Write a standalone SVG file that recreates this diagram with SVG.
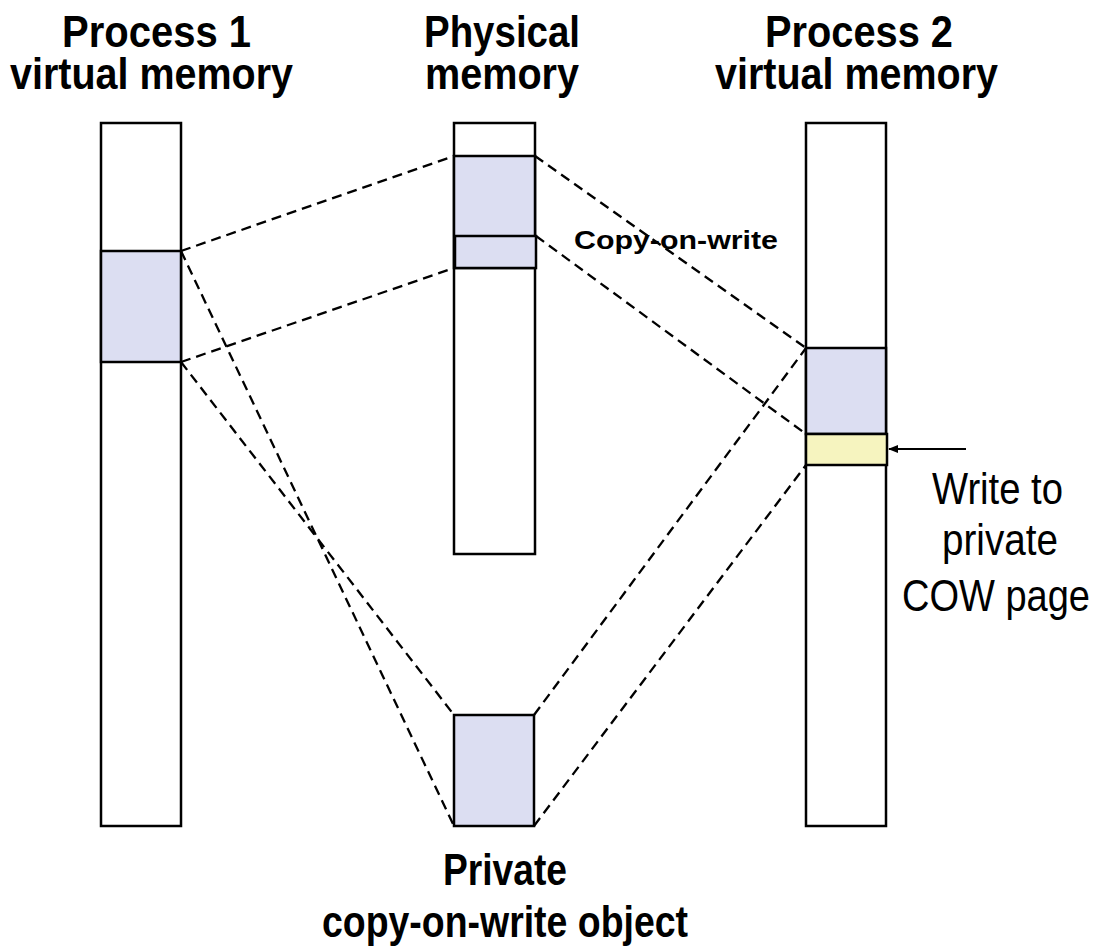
<svg xmlns="http://www.w3.org/2000/svg" width="1097" height="950" viewBox="0 0 1097 950">
<style>
.col{fill:#ffffff;stroke:#000;stroke-width:2.5}
.sh{fill:#dcdef2;stroke:#000;stroke-width:2.5}
.ye{fill:#f6f4bf;stroke:#000;stroke-width:2.5}
.dl{fill:none;stroke:#000;stroke-width:2.3;stroke-dasharray:10 6}
.tb{font-family:"Liberation Sans",Arial,sans-serif;font-weight:bold;font-size:45px;fill:#000}
.tn{font-family:"Liberation Sans",Arial,sans-serif;font-size:45px;fill:#000}
.ts{font-family:"Liberation Sans",Arial,sans-serif;font-weight:bold;font-size:26px;fill:#000}
</style>
<defs>
<marker id="ah" markerWidth="10" markerHeight="8" refX="9" refY="4" orient="auto" markerUnits="userSpaceOnUse">
<path d="M0,0 L10,4 L0,8 Z" fill="#000"/>
</marker>
</defs>
<rect width="1097" height="950" fill="#fff"/>
<g id="labels">
<text class="tb" x="62" y="47" textLength="189" lengthAdjust="spacingAndGlyphs">Process 1</text>
<text class="tb" x="10" y="89" textLength="283" lengthAdjust="spacingAndGlyphs">virtual memory</text>
<text class="tb" x="424" y="47" textLength="156" lengthAdjust="spacingAndGlyphs">Physical</text>
<text class="tb" x="425" y="89" textLength="154" lengthAdjust="spacingAndGlyphs">memory</text>
<text class="tb" x="765" y="47" textLength="188" lengthAdjust="spacingAndGlyphs">Process 2</text>
<text class="tb" x="715" y="89" textLength="283" lengthAdjust="spacingAndGlyphs">virtual memory</text>
</g>
<g id="process1">
<rect class="col" x="101" y="123" width="80" height="703"/>
<rect class="sh" x="101" y="251" width="80" height="111"/>
</g>
<g id="physical">
<rect class="col" x="454" y="123" width="81" height="431"/>
<rect class="sh" x="454" y="156" width="81" height="112"/>
<rect class="sh" x="455" y="236" width="81" height="32"/>
</g>
<g id="process2">
<rect class="col" x="806" y="123" width="80" height="703"/>
<rect class="sh" x="806" y="348" width="80" height="86"/>
<rect class="ye" x="806" y="434" width="81" height="31"/>
</g>
<g id="private">
<rect class="sh" x="454" y="715" width="80" height="111"/>
<text class="tb" x="443" y="885" textLength="124" lengthAdjust="spacingAndGlyphs">Private</text>
<text class="tb" x="322" y="937" textLength="366" lengthAdjust="spacingAndGlyphs">copy-on-write object</text>
</g>
<g id="connectors">
<line class="dl" x1="181" y1="251" x2="454" y2="156"/>
<line class="dl" x1="181" y1="362" x2="454" y2="268"/>
<line class="dl" x1="181" y1="251" x2="454" y2="826"/>
<line class="dl" x1="181" y1="362" x2="454" y2="715"/>
<line class="dl" x1="535" y1="156" x2="806" y2="348"/>
<line class="dl" x1="536" y1="236" x2="806" y2="434"/>
<line class="dl" x1="534" y1="715" x2="806" y2="348"/>
<line class="dl" x1="534" y1="826" x2="806" y2="465"/>
<line x1="966" y1="449" x2="889" y2="449" stroke="#000" stroke-width="2" marker-end="url(#ah)"/>
</g>
<g id="cow-label">
<text class="ts" x="574" y="249" textLength="204" lengthAdjust="spacingAndGlyphs">Copy-on-write</text>
</g>
<g id="write-label">
<text class="tn" x="932" y="504" textLength="131" lengthAdjust="spacingAndGlyphs">Write to</text>
<text class="tn" x="942" y="555" textLength="116" lengthAdjust="spacingAndGlyphs">private</text>
<text class="tn" x="902" y="611" textLength="188" lengthAdjust="spacingAndGlyphs">COW page</text>
</g>
</svg>
